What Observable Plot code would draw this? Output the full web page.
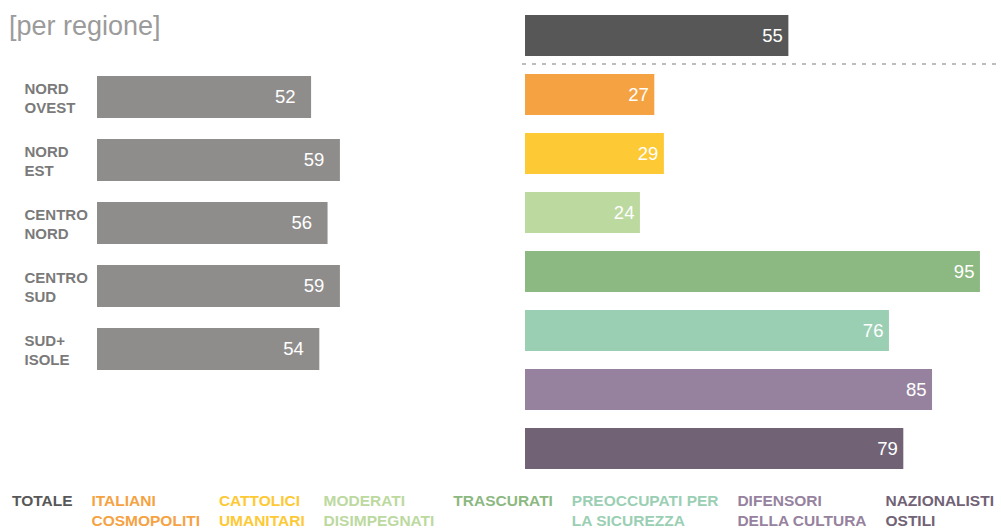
<!DOCTYPE html>
<html><head><meta charset="utf-8">
<script src="https://cdn.jsdelivr.net/npm/d3@7"></script>
<script src="https://cdn.jsdelivr.net/npm/@observablehq/plot@0.6"></script>
<style>
html,body{margin:0;padding:0}
body{width:1001px;height:530px;overflow:hidden;background:#fff;font-family:"Liberation Sans",Arial,Helvetica,sans-serif;position:relative}
#title{position:absolute;left:9px;top:10px;font-size:27px;line-height:32px;color:#9b9b9b;white-space:nowrap}
#left{position:absolute;left:0;top:0}
#right{position:absolute;left:500px;top:0}
#legend{position:absolute;left:12px;width:982px;top:491px;display:flex;justify-content:space-between;font-weight:bold;font-size:15.5px;line-height:19.5px}
#legend div{white-space:pre}
</style></head><body>
<div id="title">[per regione]</div>
<div id="left"></div>
<div id="right"></div>
<div id="legend"></div>
<script>
// Left panel: by region
const regions = ["NORD\nOVEST", "NORD\nEST", "CENTRO\nNORD", "CENTRO\nSUD", "SUD+\nISOLE"];
const regionValues = [52, 59, 56, 59, 54];

// Right panel: total + segments
const segments = ["TOTALE", "ITALIANI\nCOSMOPOLITI", "CATTOLICI\nUMANITARI", "MODERATI\nDISIMPEGNATI", "TRASCURATI", "PREOCCUPATI PER\nLA SICUREZZA", "DIFENSORI\nDELLA CULTURA", "NAZIONALISTI\nOSTILI"];
const segmentValues = [55, 27, 29, 24, 95, 76, 85, 79];
const segmentColors = ["#575757", "#f5a243", "#fdc935", "#bcd99f", "#8cb881", "#9bcfb4", "#96829e", "#716276"];

const font = '"Liberation Sans", Arial, Helvetica, sans-serif';

const regionData = regions.map((r, i) => ({region: r, value: regionValues[i]}));
const segmentData = segments.map((s, i) => ({segment: s, value: segmentValues[i]}));

const left = Plot.plot({
  width: 470, height: 371,
  marginLeft: 97, marginRight: 0, marginTop: 74, marginBottom: 0,
  x: {domain: [0, 90.6], axis: null},
  y: {domain: regions, axis: null, paddingInner: 0.34, paddingOuter: 0},
  style: {fontFamily: font, overflow: "visible", background: "transparent"},
  marks: [
    Plot.barX(regionData, {x: "value", y: "region", fill: "#8f8d8b"}),
    Plot.text(regionData, {x: "value", y: "region", text: d => String(d.value), textAnchor: "end", dx: -16, fill: "white", fontSize: 18.5}),
    Plot.text(regionData, {y: "region", text: "region", frameAnchor: "left", textAnchor: "start", dx: -73, fontSize: 15, fontWeight: "bold", fill: "#7a7a7a", lineHeight: 1.24})
  ]
});
document.getElementById("left").appendChild(left);

const right = Plot.plot({
  width: 501, height: 470,
  marginLeft: 25, marginRight: 0, marginTop: 14, marginBottom: 0,
  x: {domain: [0, 99.4], axis: null},
  y: {domain: segments, axis: null, paddingInner: 0.31, paddingOuter: 0},
  color: {domain: segments, range: segmentColors},
  style: {fontFamily: font, overflow: "visible", background: "transparent"},
  marks: [
    Plot.barX(segmentData, {x: "value", y: "segment", fill: "segment"}),
    Plot.text(segmentData, {x: "value", y: "segment", text: d => String(d.value), textAnchor: "end", dx: -6, fill: "white", fontSize: 18.5})
  ]
});
document.getElementById("right").appendChild(right);

// dashed separator between the total and the segments
const ys = right.scale("y");
const sepY = ys.range[0] + ys.bandwidth + (ys.step - ys.bandwidth) / 2;
d3.select(right).append("line")
  .attr("x1", 22).attr("x2", 501)
  .attr("y1", sepY).attr("y2", sepY)
  .attr("stroke", "#a8a8a8").attr("stroke-width", 1.5)
  .attr("stroke-dasharray", "4,6");

// legend
const legend = d3.select("#legend");
segments.forEach((s, i) => {
  legend.append("div").style("color", segmentColors[i]).text(s);
});
</script>
</body></html>
